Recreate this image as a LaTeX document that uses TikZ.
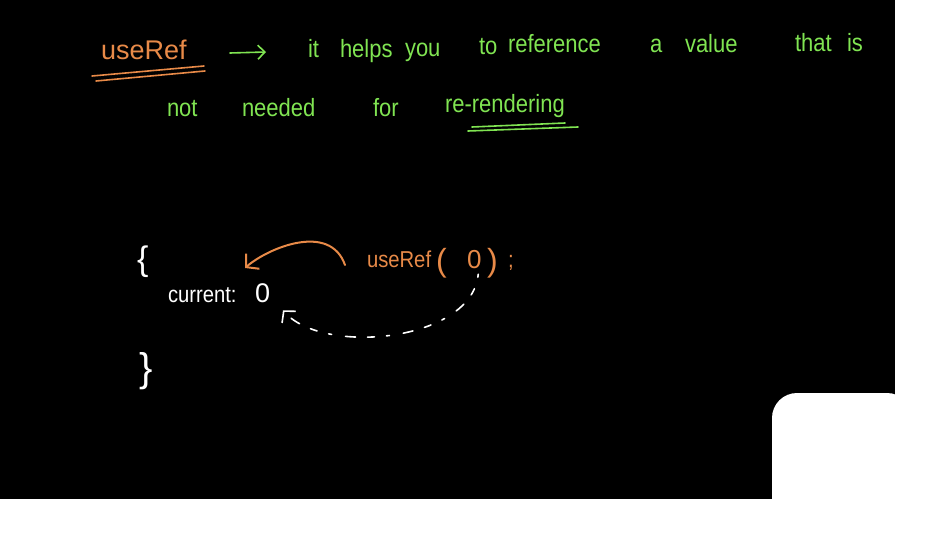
\documentclass[tikz,border=0pt]{standalone}
\usepackage{fontspec}
\setmainfont{Liberation Sans}
\newfontfamily\hand{Liberation Sans}[FakeStretch=0.88]
\usetikzlibrary{arrows.meta}
\definecolor{hworange}{RGB}{232,138,72}
\definecolor{hwgreen}{RGB}{128,228,82}
\tikzset{
  word/.style={anchor=base west, inner sep=0pt, outer sep=0pt},
  gword/.style={word, text=hwgreen, font=\hand\fontsize{25}{29}\selectfont},
  oword/.style={word, text=hworange, font=\hand\fontsize{23}{27}\selectfont},
  wword/.style={word, text=white, font=\hand\fontsize{23}{27}\selectfont},
  pen/.style={line width=1.6pt, line cap=round, line join=round},
  barb/.style={-{Straight Barb[length=9pt,width=20pt,line width=2pt]}},
}
\begin{document}
\begin{tikzpicture}[x=1pt,y=-1pt]
\fill[white] (0,0) rectangle (928,537);
\useasboundingbox (0,0) rectangle (928,537);
\fill[black] (0,0) rectangle (895,499);
\fill[white, rounded corners=25pt] (772,393) rectangle (912,530);

% title line
\node[word, text=hworange, font=\fontsize{27}{30}\selectfont] (title) at (101,60) {useRef};
\draw[pen, hworange] (92,76) -- (204,66);
\draw[pen, hworange] (96,81) -- (205,71);
\coordinate (ga1) at (230,53);
\coordinate (ga2) at (266,52);
\draw[pen, hwgreen, -{Straight Barb[length=7pt,width=14pt,line width=1.6pt]}] (ga1) -- (ga2);

\node[gword] (w1) at (308,58) {it};
\node[gword] (w2) at (340,58) {helps};
\node[gword] (w3) at (405,57) {you};
\node[gword] (w4) at (479,55) {to};
\node[gword] (w5) at (508,53) {reference};
\node[gword] (w6) at (650,53) {a};
\node[gword] (w7) at (685,53) {value};
\node[gword] (w8) at (795,52) {that};
\node[gword] (w9) at (847,52) {is};

\node[gword] (v1) at (167,117) {not};
\node[gword] (v2) at (242,117) {needed};
\node[gword] (v3) at (373,117) {for};
\node[gword] (v4) at (445,113) {re-rendering};
\draw[pen, hwgreen] (472,127) -- (565,123);
\draw[pen, hwgreen] (468,131) -- (578,127);

% object literal
\node[word, text=white, font=\fontsize{34}{38}\selectfont] (lbrace) at (137,270) {\{};
\node[wword] (current) at (168,302) {current:};
\node[word, text=white, font=\fontsize{27}{31}\selectfont] (zero) at (255,302) {0};
\node[word, text=white, font=\fontsize{40}{44}\selectfont] (rbrace) at (139,381) {\}};

% useRef(0);
\node[oword] (uref) at (367,267) {useRef};
\node[word, text=hworange, font=\fontsize{32}{36}\selectfont] (lpar) at (436,271) {(};
\node[word, text=hworange, font=\fontsize{26}{30}\selectfont] (uzero) at (467,269) {0};
\node[word, text=hworange, font=\fontsize{32}{36}\selectfont] (rpar) at (487,271) {)};
\node[oword] (semi) at (508,267) {;};

% orange arrow
\coordinate (oa1) at (345,265);
\coordinate (oa2) at (245,268);
\draw[pen, line width=2pt, hworange, barb] (oa1) .. controls (330,222) and (268,248) .. (oa2);

% white dashed arrow
\coordinate (wa1) at ([shift={(4,5)}]uzero.south);
\coordinate (wa2) at ([shift={(13,8)}]zero.south east);
\draw[pen, white, dash pattern=on 3pt off 12pt on 7pt off 12pt on 10pt off 14pt, -{Straight Barb[length=8pt,width=18pt,line width=1.6pt]}] (wa1) .. controls (472,342) and (322,356) .. (wa2);
\end{tikzpicture}
\end{document}
